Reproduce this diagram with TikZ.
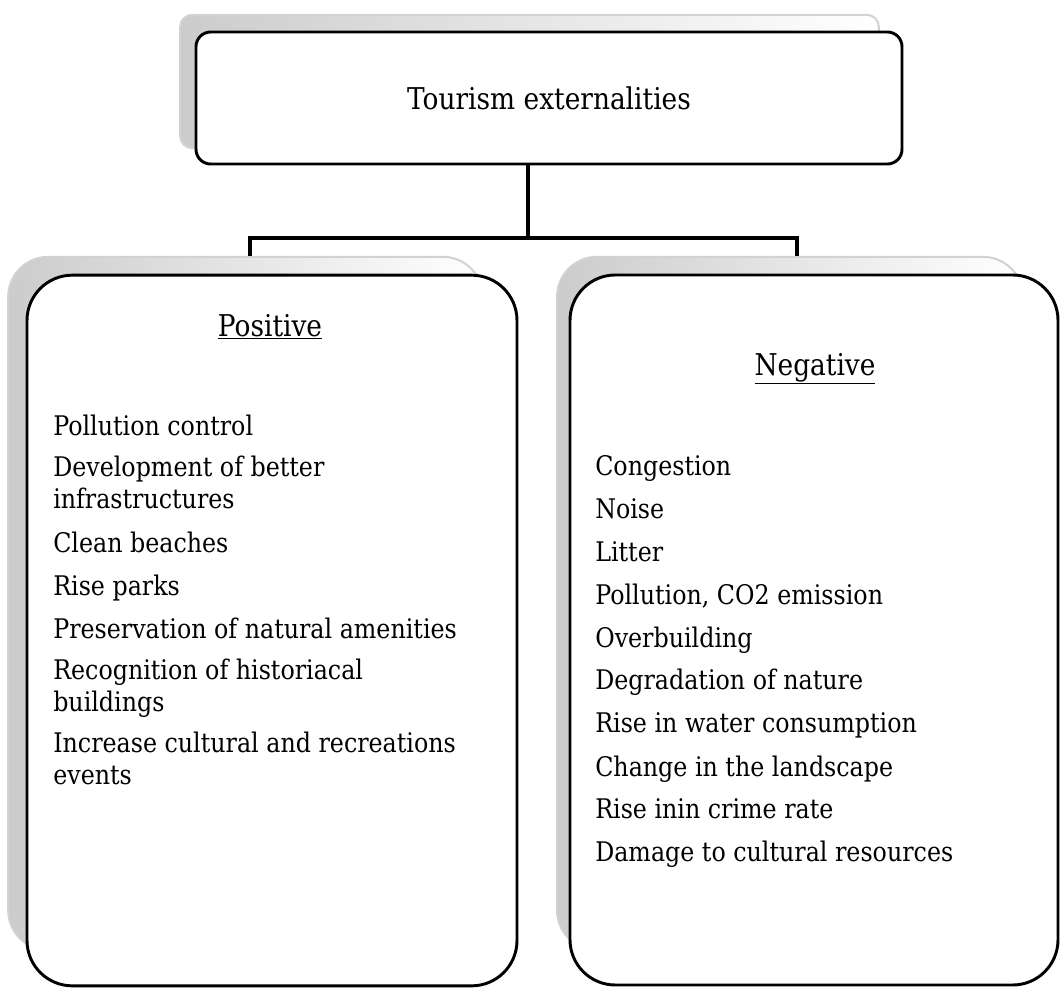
\documentclass[tikz,border=0pt]{standalone}
\usepackage{fontspec}
\setmainfont{DejaVu Serif}[FakeStretch=0.88]
\begin{document}
\begin{tikzpicture}[x=0.75pt,y=-0.75pt,
    box/.style={draw,line width=2.2pt,fill=white,rounded corners=#1,inner sep=0pt},
    shadowbox/.style={draw=gray!35,line width=1.5pt,left color=gray!40,middle color=white,right color=white,rounded corners=#1,inner sep=0pt},
    link/.style={line width=3.6pt},
    head/.style={font=\fontsize{22.5}{27}\selectfont},
    item/.style={anchor=base west,align=left,inner sep=0pt,font=\fontsize{20.25}{23.5}\selectfont}]
  \useasboundingbox (0,0) rectangle (1060,988);
  % boxes behind
  \node[shadowbox=9pt,minimum width=524pt,minimum height=100pt] (topshadow) at (529.5,81.5) {};
  \node[shadowbox=30pt,minimum width=356pt,minimum height=520pt] (posshadow) at (245.5,603.5) {};
  \node[shadowbox=30pt,minimum width=349.5pt,minimum height=520pt] (negshadow) at (790,603.5) {};
  % boxes
  \node[box=11pt,head,minimum width=529.5pt,minimum height=99pt] (topbox) at (549,98) {Tourism externalities};
  \node[box=34pt,minimum width=367.5pt,minimum height=533pt] (posbox) at (272,630.5) {};
  \node[box=34pt,minimum width=366pt,minimum height=532.5pt] (negbox) at (814,630) {};
  % connectors
  \coordinate (jc) at (528,238);
  \coordinate (jl) at (250,238);
  \coordinate (jr) at (797,238);
  \draw[link] (topbox.south -| jc) -- (jc);
  \draw[link] (jl |- posshadow.north) -- (jl) -- (jr) -- (jr |- negshadow.north);
  % headings
  \node[head,anchor=base] (poshead) at (270,336) {\underline{Positive}};
  \node[head,anchor=base] (neghead) at (815,375) {\underline{Negative}};
  % lists (base = last line)
  \foreach \y/\t [count=\i] in {435/Pollution control,508/Development of better\\infrastructures,
      552/Clean beaches,595/Rise parks,638/Preservation of natural amenities,
      711/Recognition of historiacal\\buildings,784/Increase cultural and recreations\\events}
    \node[item] (p\i) at (53,\y) {\t};
  \foreach \y/\t [count=\i] in {475/Congestion,518/Noise,561/Litter,604/{Pollution, CO2 emission},
      647/Overbuilding,689/Degradation of nature,732/Rise in water consumption,
      776/Change in the landscape,818/Rise inin crime rate,861/Damage to cultural resources}
    \node[item] (n\i) at (595,\y) {\t};
\end{tikzpicture}
\end{document}
